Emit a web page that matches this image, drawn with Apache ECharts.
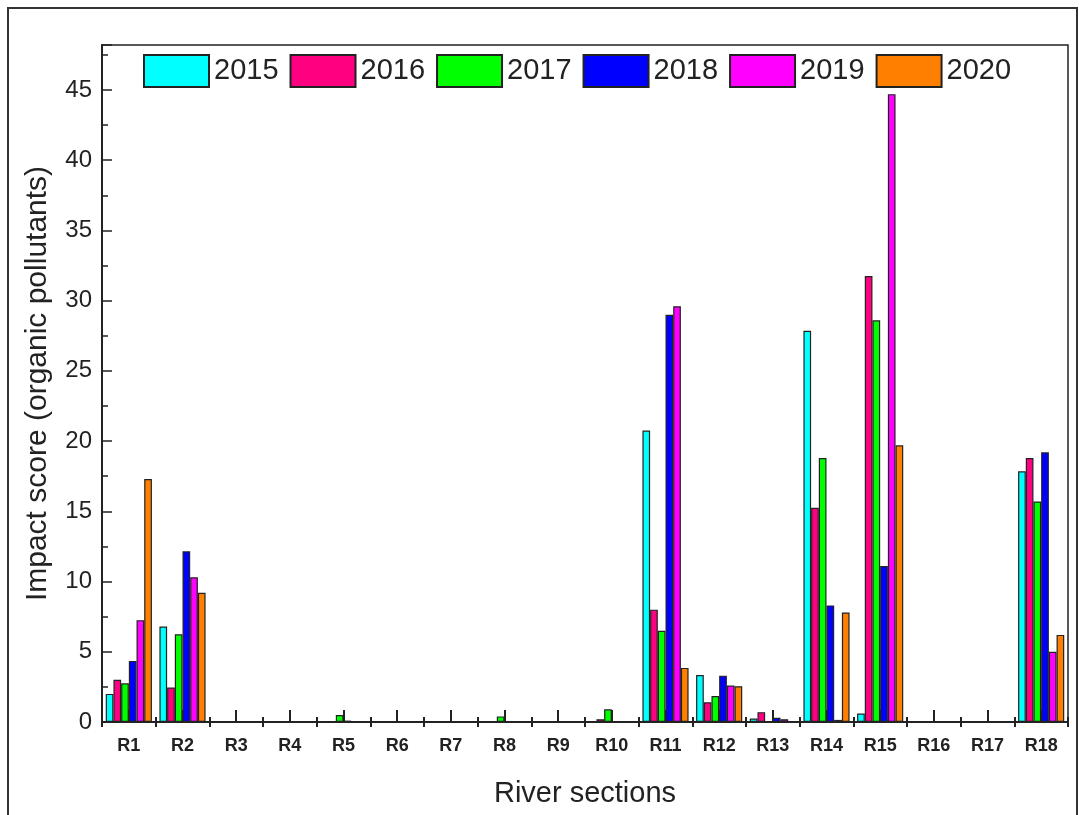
<!DOCTYPE html>
<html><head><meta charset="utf-8">
<script src="https://cdn.jsdelivr.net/npm/echarts@6/dist/echarts.min.js"></script>
<style>html,body{margin:0;padding:0;background:#fff}#c{width:1079px;height:815px}</style>
</head><body><div id="c"></div>
<script>
const categories = ['R1','R2','R3','R4','R5','R6','R7','R8','R9','R10','R11','R12','R13','R14','R15','R16','R17','R18'];
const years = ['2015','2016','2017','2018','2019','2020'];
const colors = ['#00FFFF','#FF0080','#00FF00','#0000FF','#FF00FF','#FF8000'];
const v2015 = [2.0, 6.8, 0, 0, 0, 0, 0.05, 0, 0, 0, 20.75, 3.35, 0.25, 27.85, 0.6, 0, 0, 17.85];
const v2016 = [3.0, 2.45, 0, 0.05, 0.05, 0, 0.05, 0, 0, 0.2, 8.0, 1.4, 0.7, 15.25, 31.75, 0, 0.05, 18.8];
const v2017 = [2.75, 6.25, 0, 0.05, 0.5, 0, 0, 0.4, 0, 0.9, 6.5, 1.85, 0.05, 18.8, 28.6, 0, 0.05, 15.7];
const v2018 = [4.35, 12.15, 0, 0.05, 0.1, 0, 0, 0, 0, 0.05, 29.0, 3.3, 0.3, 8.3, 11.1, 0, 0.05, 19.2];
const v2019 = [7.25, 10.3, 0, 0, 0.05, 0, 0, 0, 0, 0.05, 29.6, 2.6, 0.2, 0.15, 44.7, 0, 0, 5.0];
const v2020 = [17.3, 9.2, 0, 0, 0, 0, 0, 0, 0, 0, 3.85, 2.55, 0, 7.8, 19.7, 0, 0, 6.2];
const values = [v2015, v2016, v2017, v2018, v2019, v2020];

const FONT = '"Liberation Sans", Arial, sans-serif';
const chart = echarts.init(document.getElementById('c'), null, {renderer: 'canvas'});
const series = years.map((y, i) => ({
  name: y, type: 'bar', xAxisIndex: 0, data: values[i],
  barGap: '0%', barCategoryGap: '14%',
  itemStyle: {color: colors[i], borderColor: '#222', borderWidth: 1.2}
}));
chart.setOption({
  animation: false,
  backgroundColor: '#fff',
  graphic: [{type: 'rect', shape: {x: 8, y: 8, width: 1069, height: 900}, style: {fill: 'none', stroke: '#333', lineWidth: 2}, silent: true}],
  grid: {left: 102, right: 11, top: 45, bottom: 93, show: true, borderColor: '#222', borderWidth: 1.5, backgroundColor: 'transparent'},
  legend: {
    data: years, left: 138, top: 49, itemWidth: 65, itemHeight: 32, itemGap: 11,
    icon: 'rect',
    textStyle: {fontFamily: FONT, fontSize: 29, color: '#222', padding: [0, 0, 0, 0]}
  },
  xAxis: [
    {type: 'category', data: categories, position: 'bottom',
     name: 'River sections', nameLocation: 'middle', nameGap: 57,
     nameTextStyle: {fontFamily: FONT, fontSize: 29, color: '#222'},
     axisLine: {lineStyle: {color: '#222', width: 2}},
     axisTick: {show: true, inside: false, length: 5, lineStyle: {color: '#222', width: 2}},
     axisLabel: {fontFamily: FONT, fontSize: 18, fontWeight: 'bold', color: '#222', margin: 15}},
    {type: 'category', data: categories, position: 'bottom',
     axisLine: {show: false},
     axisTick: {show: true, inside: true, length: 5, lineStyle: {color: '#222', width: 2}},
     axisLabel: {show: false}},
    {type: 'category', data: categories, position: 'bottom',
     axisLine: {show: false},
     axisTick: {show: true, inside: true, alignWithLabel: true, length: 12, lineStyle: {color: '#222', width: 2}},
     axisLabel: {show: false}}
  ],
  yAxis: {
    type: 'value', min: 0, max: 48.2, interval: 5,
    name: 'Impact score (organic pollutants)', nameLocation: 'middle', nameGap: 49,
    nameTextStyle: {fontFamily: FONT, fontSize: 30, color: '#222'},
    axisLine: {show: true, lineStyle: {color: '#222', width: 2}},
    axisTick: {show: true, inside: true, length: 10, lineStyle: {color: '#222', width: 1.5}},
    minorTick: {show: true, splitNumber: 2, length: 6, lineStyle: {color: '#222', width: 1.5}},
    splitLine: {show: false},
    axisLabel: {fontFamily: FONT, fontSize: 24, color: '#222', margin: 10,
      formatter: v => (v % 5 === 0 ? String(v) : '')}
  },
  series: series
});
</script></body></html>
